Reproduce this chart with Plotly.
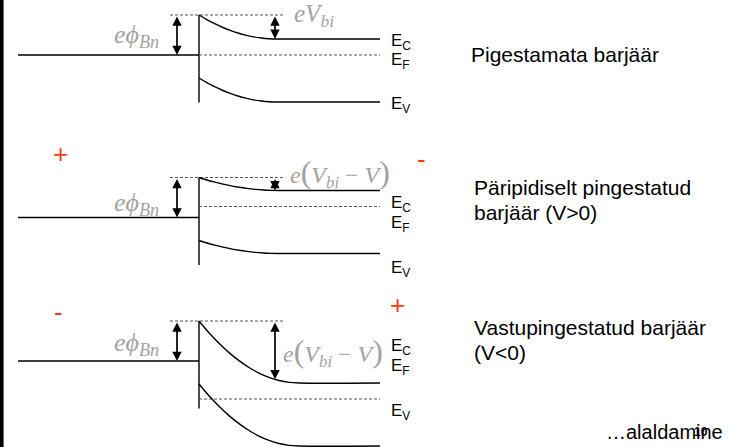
import numpy as np
import plotly.graph_objects as go

# ---------------- data (energies in eV, relative to metal Fermi level) ----------------
panel_title_lines = [["Pigestamata barjäär"],
                     ["Päripidiselt pingestatud", "barjäär (V>0)"],
                     ["Vastupingestatud barjäär", "(V<0)"]]
bias_labels = ["<i>eV</i><sub><i>bi</i></sub>",
               "<i>e</i><span style='font-size:32px'>(</span><i>V</i><sub><i>bi</i></sub> − <i>V</i><span style='font-size:32px'>)</span>",
               "<i>e</i><span style='font-size:32px'>(</span><i>V</i><sub><i>bi</i></sub> − <i>V</i><span style='font-size:32px'>)</span>"]
signs_left = ["", "+", "-"]
signs_right = ["", "-", "+"]

phi_Bn = 0.80          # Schottky barrier height
Ec_minus_Ef = 0.32     # semiconductor bulk E_C - E_F
E_gap = 1.26           # band gap
V_bias = [0.0, 0.22, -0.76]          # applied bias per panel
depletion_width = [78, 80, 100]      # depletion width (distance units)
interface_bottom = -0.95             # lower end of interface line

# band-bending profile (fraction of bending left vs fraction of W)
depl_frac = [0.0, 0.1, 0.2, 0.3, 0.4, 0.5, 0.6, 0.7, 0.8, 0.9, 1.0]
bend_frac = [1.0, 0.81, 0.64, 0.49, 0.36, 0.25, 0.16, 0.09, 0.04, 0.01, 0.0]

# distance positions (distance units)
x_metal_start, x_interface, x_end = 18, 199, 380
x_dash_start, x_dash_end = 170, 283
x_arrow_phi, x_arrow_bias = 177, 275

# ---------------- layout geometry ----------------
W, H = 729, 447
px_per_eV = 50.0
panel_rows = [(0, 130), (130, 290), (290, 447)]
metal_row = [55, 217.5, 361]

BLACK = "#000000"
GRAY_TXT = "#a3a3a3"
DASH = "#555555"
RED = "#ff3b12"

fig = go.Figure()
annotations = []
layout_axes = {}

for p in range(3):
    yname = "y" if p == 0 else f"y{p+1}"
    ykey = "yaxis" if p == 0 else f"yaxis{p+1}"
    top, bot = panel_rows[p]
    e_top = (metal_row[p] - top) / px_per_eV
    e_bot = (metal_row[p] - bot) / px_per_eV
    layout_axes[ykey] = dict(range=[e_bot, e_top], domain=[1 - bot / H, 1 - top / H],
                             visible=False, anchor="x", fixedrange=True)

    V = V_bias[p]
    Ec_bulk = V + Ec_minus_Ef
    Ef_semi = V
    Wd = depletion_width[p]

    xs = [x_interface + f * Wd for f in depl_frac] + [x_end]
    ec = [Ec_bulk + (phi_Bn - Ec_bulk) * b for b in bend_frac] + [Ec_bulk]
    ev = [e - E_gap for e in ec]

    line_k = dict(color=BLACK, width=1.4)
    dash_k = dict(color=DASH, width=1.2, dash="3px,2px")
    fig.add_trace(go.Scatter(x=[x_metal_start, x_interface], y=[0, 0], mode="lines",
                             line=line_k, yaxis=yname, hoverinfo="skip"))
    fig.add_trace(go.Scatter(x=[x_interface, x_interface], y=[phi_Bn, interface_bottom],
                             mode="lines", line=line_k, yaxis=yname, hoverinfo="skip"))
    fig.add_trace(go.Scatter(x=[x_dash_start, x_dash_end], y=[phi_Bn, phi_Bn], mode="lines",
                             line=dash_k, yaxis=yname, hoverinfo="skip"))
    fig.add_trace(go.Scatter(x=[x_interface, x_end], y=[Ef_semi, Ef_semi], mode="lines",
                             line=dash_k, yaxis=yname, hoverinfo="skip"))
    fig.add_trace(go.Scatter(x=xs, y=ec, mode="lines", line=dict(color=BLACK, width=1.4, shape="spline"),
                             yaxis=yname, hoverinfo="skip"))
    fig.add_trace(go.Scatter(x=xs, y=ev, mode="lines", line=dict(color=BLACK, width=1.4, shape="spline"),
                             yaxis=yname, hoverinfo="skip"))

    ec_at_arrow = float(np.interp(x_arrow_bias, xs, ec))
    for (xa, y0, y1) in [(x_arrow_phi, phi_Bn, 0.0), (x_arrow_bias, phi_Bn, ec_at_arrow)]:
        annotations.append(dict(x=xa, y=y1, ax=xa, ay=y0, xref="x", yref=yname, axref="x", ayref=yname,
                                text="", showarrow=True, arrowhead=2, arrowside="end+start",
                                arrowsize=1.1, arrowwidth=1.7, arrowcolor=BLACK, standoff=0, startstandoff=0))

def px(x, y):
    return x / W, 1 - y / H

def add_text(x, y, text, size, color=BLACK, family="Liberation Sans", xanchor="left"):
    xx, yy = px(x, y)
    annotations.append(dict(x=xx, y=yy, xref="paper", yref="paper", text=text, showarrow=False,
                            xanchor=xanchor, yanchor="middle", align="left",
                            font=dict(size=size, color=color, family=family)))

# band labels
label_rows = [(42, 61, 105), (204, 224, 269), (347, 367, 412)]
for p in range(3):
    for t, r in zip(["E<sub>C</sub>", "E<sub>F</sub>", "E<sub>V</sub>"], label_rows[p]):
        add_text(389, r, t, 17)

# panel titles
title_pos = [(469, [55]), (472, [187, 212]), (472, [327, 352])]
for p in range(3):
    xt, rows = title_pos[p]
    for line, r in zip(panel_title_lines[p], rows):
        add_text(xt, r, line, 21)

# math labels
phi_rows = [36, 204, 344]
for p in range(3):
    add_text(161, phi_rows[p], "<i>eϕ</i><sub><i>Bn</i></sub>", 26, GRAY_TXT, "Liberation Serif", "right")
add_text(292, 16, bias_labels[0], 25, GRAY_TXT, "Liberation Serif")
add_text(288, 173, bias_labels[1], 24, GRAY_TXT, "Liberation Serif")
add_text(281, 352, bias_labels[2], 24, GRAY_TXT, "Liberation Serif")

# bias signs
add_text(60, 154, signs_left[1], 26, RED, xanchor="center")
add_text(421, 159, signs_right[1], 26, RED, xanchor="center")
add_text(58, 312, signs_left[2], 26, RED, xanchor="center")
add_text(397, 305, signs_right[2], 26, RED, xanchor="center")

# footer
add_text(725, 432, "…alaldamine", 20, xanchor="right")
add_text(701, 432, "<b>10</b>", 12, xanchor="center")

fig.update_layout(
    width=W, height=H, margin=dict(l=0, r=0, t=0, b=0),
    paper_bgcolor="white", plot_bgcolor="white", showlegend=False,
    xaxis=dict(range=[0, W], domain=[0, 1], visible=False, fixedrange=True),
    annotations=annotations,
    shapes=[dict(type="line", xref="paper", yref="paper", x0=1.8 / W, x1=1.8 / W, y0=0, y1=1,
                 line=dict(color=BLACK, width=3.6))],
    **layout_axes,
)

fig.write_html(
    "out.html", config={"displayModeBar": False},
    post_script=("document.body.style.overflow='hidden';"
                 "var gd=document.getElementById('{plot_id}');"
                 "gd.style.position='absolute';gd.style.left='0px';gd.style.top='0px';"),
)
